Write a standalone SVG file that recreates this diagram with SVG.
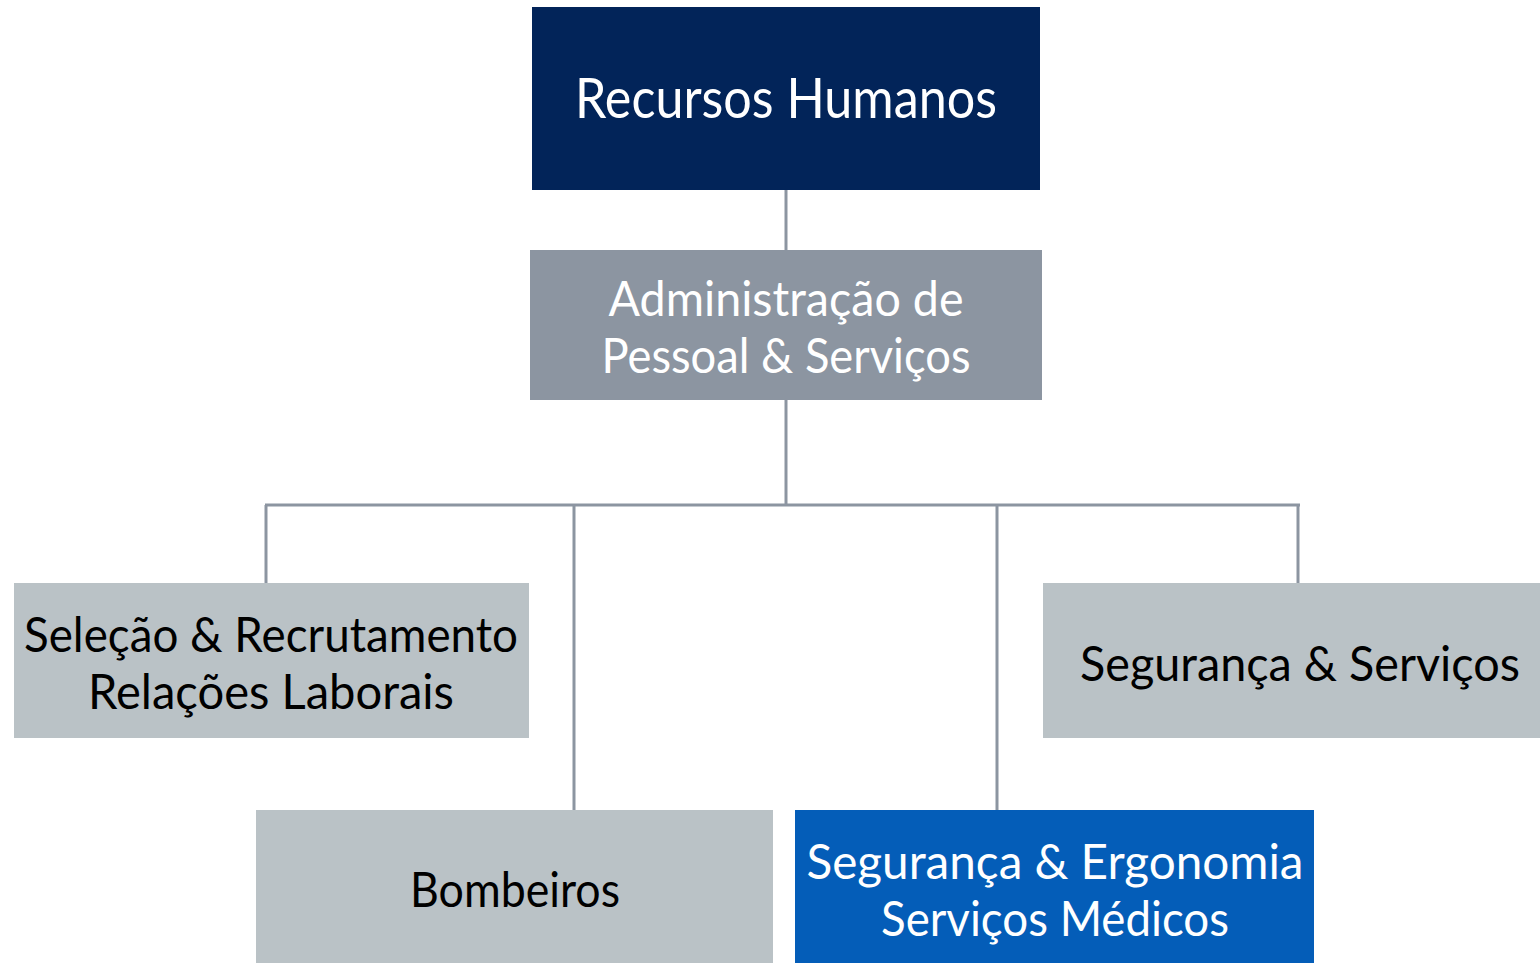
<svg xmlns="http://www.w3.org/2000/svg" width="1540" height="963" viewBox="0 0 1540 963">
<style>
.t{font-family:Lato,"Open Sans","DejaVu Sans",sans-serif;font-size:48px;text-anchor:middle}
.w{fill:#ffffff}
.k{fill:#000000}
.c{stroke:#8C95A1;stroke-width:3;fill:none}
</style>
<rect width="1540" height="963" fill="#ffffff"/>
<g id="connectors">
<line class="c" x1="786" y1="190" x2="786" y2="250"/>
<line class="c" x1="786" y1="400" x2="786" y2="505"/>
<line class="c" x1="265" y1="505" x2="1300" y2="505"/>
<line class="c" x1="266" y1="505" x2="266" y2="583"/>
<line class="c" x1="574" y1="505" x2="574" y2="810"/>
<line class="c" x1="997" y1="505" x2="997" y2="810"/>
<line class="c" x1="1298" y1="505" x2="1298" y2="583"/>
</g>
<g id="n-rh">
<rect x="532" y="7" width="508" height="183" fill="#022459"/>
<text class="t w" x="786" y="118" style="font-size:56px" textLength="422" lengthAdjust="spacingAndGlyphs">Recursos Humanos</text>
</g>
<g id="n-admin">
<rect x="530" y="250" width="512" height="150" fill="#8C95A1"/>
<text class="t w" x="786" y="316" textLength="355" lengthAdjust="spacingAndGlyphs">Administração de</text>
<text class="t w" x="786" y="373" textLength="369" lengthAdjust="spacingAndGlyphs">Pessoal &amp; Serviços</text>
</g>
<g id="n-selecao">
<rect x="14" y="583" width="515" height="155" fill="#BAC2C6"/>
<text class="t k" x="271" y="652" textLength="494" lengthAdjust="spacingAndGlyphs">Seleção &amp; Recrutamento</text>
<text class="t k" x="271" y="709" textLength="366" lengthAdjust="spacingAndGlyphs">Relações Laborais</text>
</g>
<g id="n-segserv">
<rect x="1043" y="583" width="497" height="155" fill="#BAC2C6"/>
<text class="t k" x="1300" y="681" textLength="440" lengthAdjust="spacingAndGlyphs">Segurança &amp; Serviços</text>
</g>
<g id="n-bombeiros">
<rect x="256" y="810" width="517" height="153" fill="#BAC2C6"/>
<text class="t k" x="515" y="907" textLength="210" lengthAdjust="spacingAndGlyphs">Bombeiros</text>
</g>
<g id="n-ergonomia">
<rect x="795" y="810" width="519" height="153" fill="#045DB8"/>
<text class="t w" x="1055" y="879" textLength="497" lengthAdjust="spacingAndGlyphs">Segurança &amp; Ergonomia</text>
<text class="t w" x="1055" y="936" textLength="348" lengthAdjust="spacingAndGlyphs">Serviços Médicos</text>
</g>
</svg>
